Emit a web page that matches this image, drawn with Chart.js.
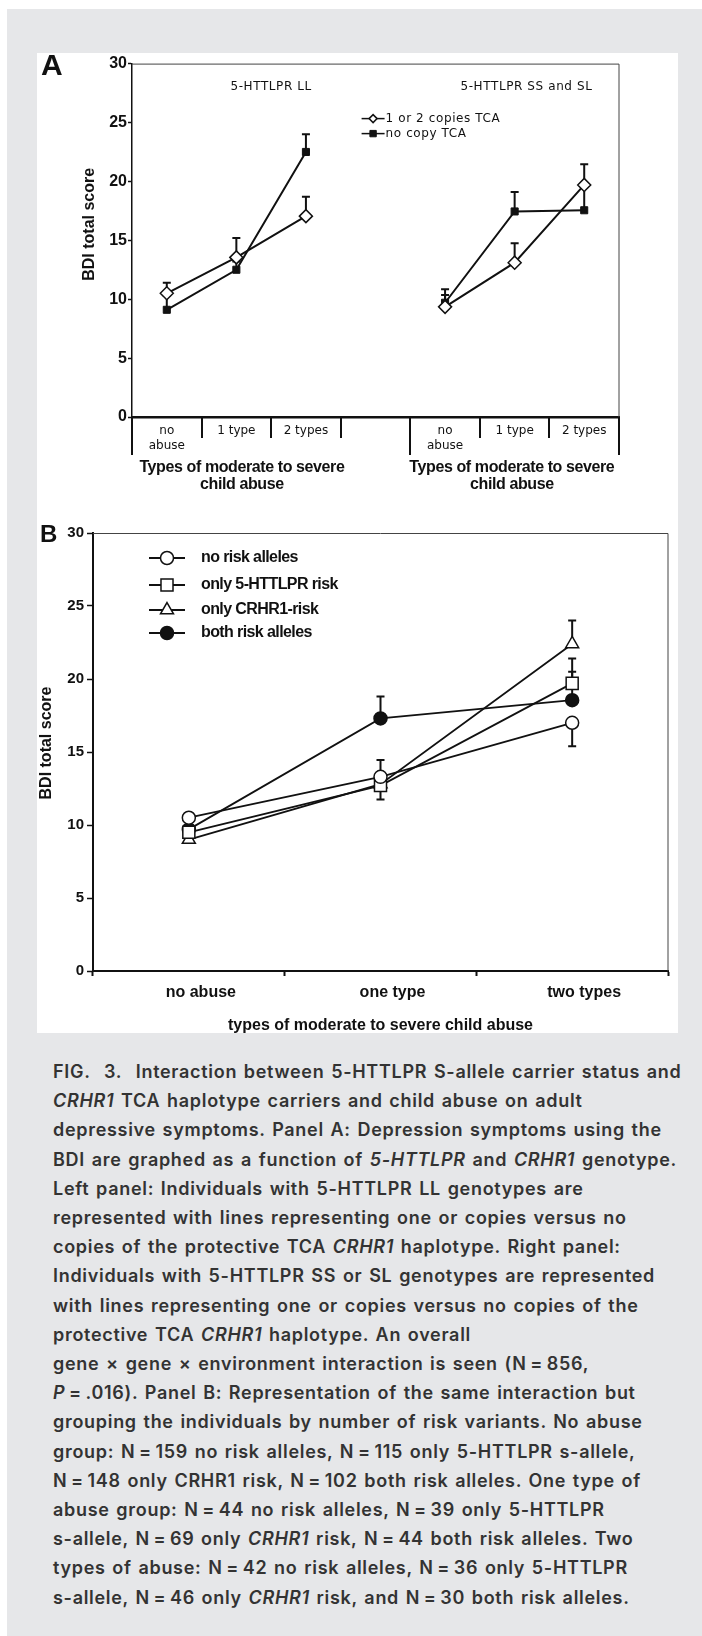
<!DOCTYPE html>
<html>
<head>
<meta charset="utf-8">
<script src="https://cdn.jsdelivr.net/npm/chart.js@4.4.1/dist/chart.umd.min.js"></script>
<style>
  html, body { margin: 0; padding: 0; background: #fff; }
  #page { position: relative; width: 702px; height: 1636px; overflow: hidden; background: #fff; }
  #card { position: absolute; left: 7px; top: 9px; right: 0; bottom: 0; background: #e6e7e9; }
  #panel { position: absolute; left: 37px; top: 53px; width: 641px; height: 980px; background: #fff; }
  canvas { position: absolute; }
  #chartA { left: 37px; top: 53px; }
  #chartB { left: 37px; top: 495px; }
  .letter { position: absolute; font-family: 'Liberation Sans', Arial, sans-serif; font-weight: bold; color: #111; line-height: 1; }
  #caption { position: absolute; left: 53px; top: 1057px; font-family: Inter, sans-serif; font-weight: 600;
             font-size: 18px; line-height: 29.2px; letter-spacing: 0.7px; word-spacing: 1.5px;
             color: #333; white-space: nowrap; }
</style>
</head>
<body>
<div id="page">
  <div id="card"></div>
  <div id="panel"></div>
  <canvas id="chartA" width="641" height="437"></canvas>
  <canvas id="chartB" width="641" height="538"></canvas>
  <div class="letter" style="left:41px; top:50px; font-size:30px;">A</div>
  <div class="letter" style="left:40px; top:522px; font-size:24px;">B</div>
  <div id="caption">
    FIG.&nbsp; 3.&nbsp; Interaction between 5-HTTLPR S-allele carrier status and<br>
    <i>CRHR1</i> TCA haplotype carriers and child abuse on adult<br>
    depressive symptoms. Panel A: Depression symptoms using the<br>
    BDI are graphed as a function of <i>5-HTTLPR</i> and <i>CRHR1</i> genotype.<br>
    Left panel: Individuals with 5-HTTLPR LL genotypes are<br>
    represented with lines representing one or copies versus no<br>
    copies of the protective TCA <i>CRHR1</i> haplotype. Right panel:<br>
    Individuals with 5-HTTLPR SS or SL genotypes are represented<br>
    with lines representing one or copies versus no copies of the<br>
    protective TCA <i>CRHR1</i> haplotype. An overall<br>
    gene × gene × environment interaction is seen (N&thinsp;=&thinsp;856,<br>
    <i>P</i>&thinsp;=&thinsp;.016). Panel B: Representation of the same interaction but<br>
    grouping the individuals by number of risk variants. No abuse<br>
    group: N&thinsp;=&thinsp;159 no risk alleles, N&thinsp;=&thinsp;115 only 5-HTTLPR s-allele,<br>
    N&thinsp;=&thinsp;148 only CRHR1 risk, N&thinsp;=&thinsp;102 both risk alleles. One type of<br>
    abuse group: N&thinsp;=&thinsp;44 no risk alleles, N&thinsp;=&thinsp;39 only 5-HTTLPR<br>
    s-allele, N&thinsp;=&thinsp;69 only <i>CRHR1</i> risk, N&thinsp;=&thinsp;44 both risk alleles. Two<br>
    types of abuse: N&thinsp;=&thinsp;42 no risk alleles, N&thinsp;=&thinsp;36 only 5-HTTLPR<br>
    s-allele, N&thinsp;=&thinsp;46 only <i>CRHR1</i> risk, and N&thinsp;=&thinsp;30 both risk alleles.
  </div>
</div>
<script>
// Panel A: 5-HTTLPR genotype x CRHR1 TCA copies (index 3 is the empty gap between sub-panels)
const abuseLabelsA = [['no', 'abuse'], '1 type', '2 types', '', ['no', 'abuse'], '1 type', '2 types'];
const genotypeTitles = ['5-HTTLPR LL', '5-HTTLPR SS and SL'];
const tcaCopies = [10.5, 13.55, 17.05, null, 9.35, 13.1, 19.7];
const tcaCopiesErr = [11.4, 15.2, 18.7, null, 10.85, 14.75, 21.45];   // end of error bar
const noTcaCopy = [9.1, 12.5, 22.5, null, 9.7, 17.45, 17.55];
const noTcaCopyErr = [10.3, 13.2, 24.0, null, 10.35, 19.1, 19.5];

// Panel B: grouped by number of risk variants
const abuseLabelsB = ['no abuse', 'one type', 'two types'];
const noRisk = [10.5, 13.3, 17.0];
const noRiskErr = [null, 14.45, 15.4];
const onlyHttlpr = [9.5, 12.7, 19.7];
const onlyHttlprErr = [null, 11.75, 21.4];
const onlyCrhr1 = [9.0, 12.8, 22.4];
const onlyCrhr1Err = [null, null, 24.0];
const bothRisk = [9.7, 17.3, 18.55];
const bothRiskErr = [null, 18.8, 20.5];

const INK = '#111';
Chart.defaults.font.family = "'Liberation Sans', Arial, sans-serif";
Chart.defaults.color = INK;

// error bars drawn under the lines/markers, from the mean to the given end value
const errorBars = {
    id: 'errorBars',
    beforeDatasetsDraw(chart, args, opts) {
        const ctx = chart.ctx;
        const yScale = chart.scales.y;
        ctx.save();
        ctx.strokeStyle = INK;
        ctx.lineWidth = opts.width;
        chart.data.datasets.forEach((ds, di) => {
            const meta = chart.getDatasetMeta(di);
            (ds.errEnd || []).forEach((end, i) => {
                if (end == null || ds.data[i] == null) return;
                const pt = meta.data[i];
                const ye = yScale.getPixelForValue(end);
                ctx.beginPath();
                ctx.moveTo(pt.x, pt.y);
                ctx.lineTo(pt.x, ye);
                ctx.moveTo(pt.x - opts.cap, ye);
                ctx.lineTo(pt.x + opts.cap, ye);
                ctx.stroke();
            });
        });
        ctx.restore();
    }
};

function boxTopRight(ctx, a) {
    ctx.strokeStyle = '#444';
    ctx.lineWidth = 1;
    ctx.beginPath();
    ctx.moveTo(a.left, a.top + 0.5);
    ctx.lineTo(a.right, a.top + 0.5);
    ctx.lineTo(a.right, a.bottom);
    ctx.stroke();
}

function legendSwatch(ctx, ds, x1, x2, y) {
    ctx.strokeStyle = INK;
    ctx.lineWidth = ds.legendLine;
    ctx.beginPath();
    ctx.moveTo(x1, y);
    ctx.lineTo(x2, y);
    ctx.stroke();
    ctx.fillStyle = ds.pointBackgroundColor;
    ctx.strokeStyle = ds.pointBorderColor;
    ctx.lineWidth = ds.pointBorderWidth;
    Chart.helpers.drawPoint(ctx, {
        pointStyle: ds.pointStyle, radius: ds.legendRadius, rotation: 0, borderWidth: ds.pointBorderWidth
    }, (x1 + x2) / 2, y);
}

// rotated y title, placed a little above the middle like the original
function yTitle(ctx, text, x, y) {
    ctx.save();
    ctx.translate(x, y);
    ctx.rotate(-Math.PI / 2);
    ctx.font = "bold 16px 'Liberation Sans'";
    ctx.fillStyle = INK;
    ctx.textAlign = 'center';
    ctx.textBaseline = 'middle';
    ctx.fillText(text, 0, 0);
    ctx.restore();
}

// Panel A extras: frame, category dividers, sub-panel titles, legend
const panelA = {
    id: 'panelA',
    afterDraw(chart) {
        const { ctx, chartArea: a, scales: { x } } = chart;
        const half = (x.getPixelForValue(1) - x.getPixelForValue(0)) / 2;
        ctx.save();
        boxTopRight(ctx, a);

        ctx.strokeStyle = INK;
        ctx.lineWidth = 2;
        for (let i = 0; i <= abuseLabelsA.length; i++) {
            const px = Math.round(x.getPixelForValue(i) - half);
            const long = i === 0 || i === 4 || i === abuseLabelsA.length;
            ctx.beginPath();
            ctx.moveTo(px, a.bottom);
            ctx.lineTo(px, a.bottom + (long ? 38 : 21));
            ctx.stroke();
        }

        yTitle(ctx, 'BDI total score', a.left - 42, (a.top + a.bottom) / 2 - 16);

        ctx.fillStyle = INK;
        ctx.letterSpacing = '0.6px';
        ctx.font = "12px 'DejaVu Sans'";
        ctx.textAlign = 'center';
        ctx.textBaseline = 'middle';
        ctx.fillText(genotypeTitles[0], x.getPixelForValue(1.5), a.top + 23);
        ctx.fillText(genotypeTitles[1], x.getPixelForValue(5.17), a.top + 23);

        // legend
        const lx = x.getPixelForValue(2.8);
        chart.data.datasets.forEach((ds, i) => {
            const ly = a.top + 55 + i * 15;
            legendSwatch(ctx, ds, lx, lx + 23, ly);
            ctx.fillStyle = INK;
            ctx.textAlign = 'left';
            ctx.fillText(ds.label, lx + 24, ly);
        });

        // axis titles under each sub-panel
        ctx.letterSpacing = '-0.4px';
        ctx.font = "bold 16px 'Liberation Sans'";
        ctx.textAlign = 'center';
        [1.08, 4.96].forEach(c => {
            ctx.fillText('Types of moderate to severe', x.getPixelForValue(c), a.bottom + 51);
            ctx.fillText('child abuse', x.getPixelForValue(c), a.bottom + 68);
        });
        ctx.restore();
    }
};

// Panel B extras: frame, y title and legend
const panelB = {
    id: 'panelB',
    afterDraw(chart) {
        const { ctx, chartArea: a } = chart;
        ctx.save();
        boxTopRight(ctx, a);
        yTitle(ctx, 'BDI total score', a.left - 46, (a.top + a.bottom) / 2 - 9);
        const rows = [25, 52, 77, 100];
        ctx.font = "bold 16px 'Liberation Sans'";
        ctx.letterSpacing = '-0.6px';
        ctx.textBaseline = 'middle';
        chart.data.datasets.forEach((ds, i) => {
            const ly = a.top + rows[i];
            legendSwatch(ctx, ds, a.left + 56, a.left + 92, ly);
            ctx.fillStyle = INK;
            ctx.fillText(ds.label, a.left + 108, ly);
        });
        ctx.restore();
    }
};

new Chart(document.getElementById('chartA'), {
    type: 'line',
    data: {
        labels: abuseLabelsA,
        datasets: [
            {
                label: '1 or 2 copies TCA', data: tcaCopies, errEnd: tcaCopiesErr,
                borderColor: INK, borderWidth: 2, pointStyle: 'rectRot', pointRadius: 6.5,
                pointBackgroundColor: '#fff', pointBorderColor: INK, pointBorderWidth: 1.5,
                legendRadius: 4, legendLine: 1.5
            },
            {
                label: 'no copy TCA', data: noTcaCopy, errEnd: noTcaCopyErr,
                borderColor: INK, borderWidth: 2, pointStyle: 'rect', pointRadius: 5,
                pointBackgroundColor: INK, pointBorderColor: INK, pointBorderWidth: 1,
                legendRadius: 4.5, legendLine: 1.5
            }
        ]
    },
    options: {
        responsive: false,
        animation: false,
        spanGaps: false,
        layout: { padding: { left: 41, top: 5, right: 59, bottom: 0 } },
        plugins: { legend: { display: false }, tooltip: { enabled: false }, errorBars: { width: 2, cap: 4 } },
        scales: {
            x: {
                type: 'category',
                offset: true,
                grid: { display: false, drawTicks: false },
                border: { display: true, color: INK, width: 2.5 },
                ticks: { font: { family: "'DejaVu Sans'", size: 12, lineHeight: 1.25 }, padding: 6, maxRotation: 0, autoSkip: false },
                afterFit: s => { s.height = 73; }
            },
            y: {
                min: 0, max: 30,
                ticks: { stepSize: 5, font: { size: 16, weight: 'bold' }, padding: 1 },
                grid: { drawOnChartArea: false, tickLength: 4, tickColor: INK, tickWidth: 1.5 },
                border: { display: true, color: INK, width: 1.5 },
                afterFit: s => { s.width = 54; }
            }
        }
    },
    plugins: [errorBars, panelA]
});

new Chart(document.getElementById('chartB'), {
    type: 'line',
    data: {
        labels: abuseLabelsB,
        datasets: [
            {
                label: 'no risk alleles', data: noRisk, errEnd: noRiskErr,
                borderColor: INK, borderWidth: 1.8, pointStyle: 'circle', pointRadius: 6.5,
                pointBackgroundColor: '#fff', pointBorderColor: INK, pointBorderWidth: 1.5,
                legendRadius: 6.5, legendLine: 2
            },
            {
                label: 'only 5-HTTLPR risk', data: onlyHttlpr, errEnd: onlyHttlprErr,
                borderColor: INK, borderWidth: 1.8, pointStyle: 'rect', pointRadius: 8.5,
                pointBackgroundColor: '#fff', pointBorderColor: INK, pointBorderWidth: 1.5,
                legendRadius: 8.5, legendLine: 2
            },
            {
                label: 'only CRHR1-risk', data: onlyCrhr1, errEnd: onlyCrhr1Err,
                borderColor: INK, borderWidth: 1.8, pointStyle: 'triangle', pointRadius: 7.5,
                pointBackgroundColor: '#fff', pointBorderColor: INK, pointBorderWidth: 1.5,
                legendRadius: 7.5, legendLine: 2
            },
            {
                label: 'both risk alleles', data: bothRisk, errEnd: bothRiskErr,
                borderColor: INK, borderWidth: 1.8, pointStyle: 'circle', pointRadius: 6.5,
                pointBackgroundColor: INK, pointBorderColor: INK, pointBorderWidth: 1.5,
                legendRadius: 6.5, legendLine: 2
            }
        ]
    },
    options: {
        responsive: false,
        animation: false,
        layout: { padding: { left: 0, top: 38, right: 1, bottom: 0 } },
        plugins: { legend: { display: false }, tooltip: { enabled: false }, errorBars: { width: 2, cap: 4 } },
        scales: {
            x: {
                type: 'category',
                offset: true,
                grid: { offset: true, drawOnChartArea: false, tickLength: 5, tickWidth: 2, tickColor: INK },
                border: { display: true, color: INK, width: 2 },
                ticks: { font: { size: 16, weight: 'bold' }, padding: 7, labelOffset: 12, maxRotation: 0 },
                title: { display: true, text: 'types of moderate to severe child abuse', font: { size: 16, weight: 'bold', lineHeight: 1 }, padding: { top: 0, bottom: -1 } },
                afterFit: s => { s.height = 62; }
            },
            y: {
                min: 0, max: 30,
                ticks: { stepSize: 5, font: { size: 15, weight: 'bold' }, padding: 3 },
                grid: { drawOnChartArea: false, tickLength: 6, tickColor: INK, tickWidth: 1.5 },
                border: { display: true, color: INK, width: 2 },
                afterFit: s => { s.width = 56; }
            }
        }
    },
    plugins: [errorBars, panelB]
});
</script>
</body>
</html>
